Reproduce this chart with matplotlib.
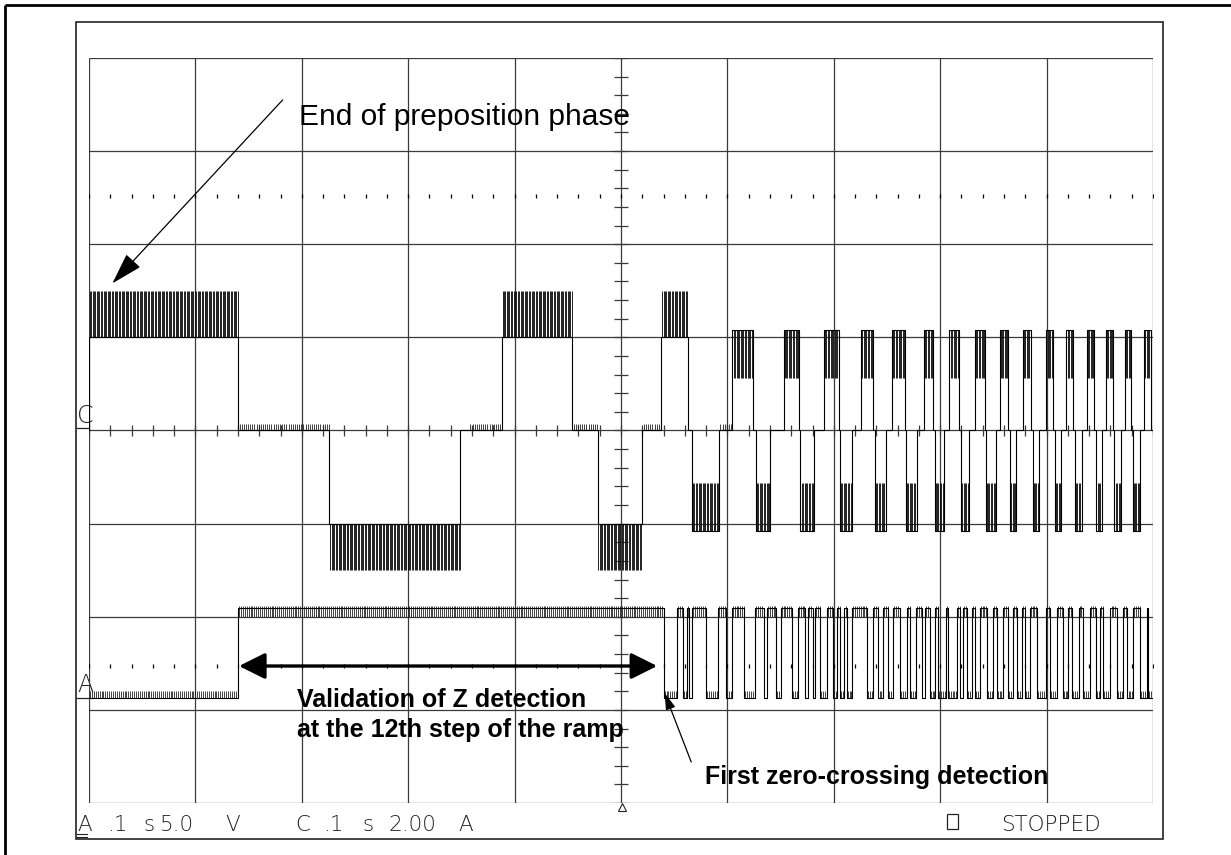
import numpy as np
import matplotlib
matplotlib.use("Agg")
import matplotlib.pyplot as plt
from matplotlib.patches import Rectangle

# ---------------- scope settings ----------------
TIME_SPAN_MS = 1000          # 10 div x .1 s
C_AMP_PER_DIV = 2.0          # channel C: 2.00 A/div
A_VOLT_PER_DIV = 5.0         # channel A: 5.0 V/div
C_GROUND_DIV = 4.0
A_GROUND_DIV = 1.128

# ---------------- channel C (phase current) ----------------
# current bursts (start ms, end ms)
c_pos_early = [(0, 140), (388, 454), (538, 563)]
c_neg_early = [(226, 349), (478, 520)]
c_pos_late = [(604, 624), (653, 667), (691, 705), (726, 737), (755, 767), (785, 793),
              (808, 818), (833, 842), (856, 864), (878, 885), (899, 906), (918, 925),
              (938, 945), (956, 962), (974, 979), (992, 998)]
c_neg_late = [(567, 592), (627, 640), (668, 681), (706, 717), (739, 749), (768, 778),
              (795, 804), (820, 827), (843, 852), (866, 871), (887, 893), (908, 914),
              (927, 933), (946, 952), (963, 970), (981, 988)]
c_early_level = 2.0     # A
c_early_swing = 3.0     # A
c_late_level = 2.15     # A
c_late_swing = 1.12     # A
c_quiet_fuzz = [(140, 226), (357, 388), (454, 478), (520, 538), (592, 604)]

# ---------------- channel A (zero-crossing / comparator output) ----------------
a_high_v = 4.83
a_low_v = 0.0
a_low_intervals = [(0, 140), (540, 553), (558, 562), (564, 567), (580, 591), (599, 604),
                   (616, 626), (634, 637), (646, 650), (661, 666), (673, 676), (680, 682),
                   (687, 694), (699, 703), (706, 710), (712, 717), (731, 737), (742, 746),
                   (751, 756), (762, 769), (772, 777), (783, 786), (790, 795), (798, 805),
                   (807, 816), (819, 821), (825, 830), (833, 837), (844, 850), (853, 859),
                   (864, 868), (872, 877), (880, 884), (891, 899), (903, 910), (915, 920),
                   (924, 930), (934, 941), (946, 950), (953, 960), (966, 972), (976, 981),
                   (988, 994), (995, 1000)]

dot_rows_div = [6.518, 1.471]

# ---------------- labels ----------------
title_note = "End of preposition phase"
validation_lines = ["Validation of Z detection", "at the 12th step of the ramp"]
zc_note = "First zero-crossing detection"
status_tokens = [(77, "A"), (107, ".1"), (143, "s"), (160, "5.0"), (225, "V"),
                 (295, "C"), (323, ".1"), (362, "s"), (388, "2.00"), (458, "A")]
status_text = "STOPPED"

W, H = 1231, 855


def cdiv(i):
    return C_GROUND_DIV + np.asarray(i) / C_AMP_PER_DIV


def adiv(v):
    return A_GROUND_DIV + np.asarray(v) / A_VOLT_PER_DIV


fig = plt.figure(figsize=(W / 100, H / 100), dpi=100)
fig.patch.set_facecolor("white")

# overlay in pixel coordinates for frames & status line
ov = fig.add_axes([0, 0, 1, 1])
ov.set_xlim(0, W)
ov.set_ylim(H, 0)
ov.axis("off")
ov.patch.set_alpha(0)
ov.plot([5, W], [5, 5], color="black", lw=2.0, solid_capstyle="butt")
ov.plot([5, 5], [5, H], color="black", lw=2.0, solid_capstyle="butt")
ov.add_patch(Rectangle((76, 22), 1163 - 76, 839 - 22, fill=False, ec="#222", lw=1.2))

thin = dict(family="DejaVu Sans", fontweight=200, fontsize=15.5, color="#222", va="baseline")
for x, t in status_tokens:
    ov.text(x, 831, t, **thin)
ov.plot([77, 87], [834, 834], color="#222", lw=0.8)
ov.plot([77, 87], [837, 837], color="#222", lw=0.8)
ov.add_patch(Rectangle((947, 814), 11, 15, fill=False, ec="#222", lw=0.9))
ov.text(1001, 831, status_text, **thin)
# channel ground markers on the left edge
ov.text(77, 423, "C", family="DejaVu Sans", fontweight=200, fontsize=17, color="#222", va="baseline")
ov.plot([77, 88], [428, 428], color="#222", lw=0.9)
ov.text(77, 692, "A", family="DejaVu Sans", fontweight=200, fontsize=17, color="#222", va="baseline")
ov.plot([77, 88], [698, 698], color="#222", lw=0.9)
ov.plot([622], [807], marker="^", ms=6, mfc="white", mec="#222", mew=0.8)

# main graticule axes
x0, x1, y0, y1 = 89, 1153, 58, 803
ax = fig.add_axes([x0 / W, 1 - y1 / H, (x1 - x0) / W, (y1 - y0) / H])
ax.set_xlim(0, TIME_SPAN_MS)
ax.set_ylim(0, 8)
ax.axis("off")
ax.patch.set_alpha(0)

gcol = "#3a3a3a"
ax.vlines(np.arange(0, TIME_SPAN_MS + 1, 100), 0, 8, color=gcol, lw=0.9, zorder=1)
ax.hlines(np.arange(0, 9), 0, TIME_SPAN_MS, color=gcol, lw=0.9, zorder=1)
# centre-axis minor ticks
ax.vlines(np.arange(0, TIME_SPAN_MS + 1, 20), 4 - 0.055, 4 + 0.055, color=gcol, lw=0.9, zorder=1)
ax.hlines(np.arange(0, 8.01, 0.2), 500 - 6.6, 500 + 6.6, color=gcol, lw=0.9, zorder=1)
# dotted reference rows
for yr in dot_rows_div:
    ax.plot(np.arange(0, TIME_SPAN_MS + 1, 20), np.full(51, yr), ls="none",
            marker="|", ms=2.5, mew=0.9, color="black", zorder=2)

# ---- channel C trace
bursts = ([(s, e, 1, c_early_level, c_early_swing) for s, e in c_pos_early] +
          [(s, e, -1, c_early_level, c_early_swing) for s, e in c_neg_early] +
          [(s, e, 1, c_late_level, c_late_swing) for s, e in c_pos_late] +
          [(s, e, -1, c_late_level, c_late_swing) for s, e in c_neg_late])
bursts.sort()
tc, ic = [], []
for s, e, sg, lv, sw in bursts:
    tc += [s, s, e, e]
    ic += [0, sg * lv, sg * lv, 0]
    xs = np.arange(s + 0.7, e, 1.3)
    ax.vlines(xs, cdiv(sg * lv), cdiv(sg * sw), color="#111", lw=0.65, zorder=3)
tc.append(TIME_SPAN_MS)
ic.append(0)
ax.plot(tc, cdiv(ic), color="black", lw=0.8, zorder=4)
for s, e in c_quiet_fuzz:
    ax.vlines(np.arange(s + 1.5, e, 2.0), C_GROUND_DIV, cdiv(0.14), color="#222", lw=0.6, zorder=3)

# ---- channel A trace
ta, va = [], []
cur = 0
for s, e in a_low_intervals:
    if s > cur:
        ta += [cur, s]
        va += [a_high_v, a_high_v]
        ax.vlines(np.arange(cur + 1.0, s, 1.8), adiv(a_high_v + 0.1), adiv(a_high_v - 0.5),
                  color="#222", lw=0.6, zorder=3)
    ta += [s, e]
    va += [a_low_v, a_low_v]
    if e - s > 3:
        ax.vlines(np.arange(s + 1.0, e, 1.8), adiv(a_low_v), adiv(a_low_v + 0.35),
                  color="#222", lw=0.6, zorder=3)
    cur = e
if cur < TIME_SPAN_MS:
    ta += [cur, TIME_SPAN_MS]
    va += [a_high_v, a_high_v]
ax.plot(ta, adiv(va), color="black", lw=0.8, zorder=4)

# ---- annotations
ax.annotate("", xy=(22, 5.58), xytext=(182, 7.55),
            arrowprops=dict(arrowstyle="-|>,head_length=1.0,head_width=0.3", color="black",
                            lw=0.9, shrinkA=0, shrinkB=0, mutation_scale=20), zorder=6)
ax.text(197, 7.28, title_note, family="Liberation Sans", fontsize=21.5, va="baseline",
        ha="left", color="black", zorder=6)
ax.annotate("", xy=(141, 1.471), xytext=(534, 1.471),
            arrowprops=dict(arrowstyle="<|-|>,head_length=0.8,head_width=0.4", color="black",
                            lw=2.4, shrinkA=0, shrinkB=0, mutation_scale=20), zorder=6)
ax.text(195.5, 1.031, validation_lines[0], family="Liberation Sans", fontweight="bold",
        fontsize=18, va="baseline", ha="left", zorder=6)
ax.text(195.5, 0.709, validation_lines[1], family="Liberation Sans", fontweight="bold",
        fontsize=18, va="baseline", ha="left", zorder=6)
ax.annotate("", xy=(541, 1.18), xytext=(566, 0.44),
            arrowprops=dict(arrowstyle="-|>,head_length=0.5,head_width=0.15", color="black",
                            lw=0.9, shrinkA=0, shrinkB=0, mutation_scale=20), zorder=6)
ax.text(579, 0.204, zc_note, family="Liberation Sans", fontweight="bold", fontsize=18,
        va="baseline", ha="left", zorder=6)

fig.savefig("out.png", dpi=100)
